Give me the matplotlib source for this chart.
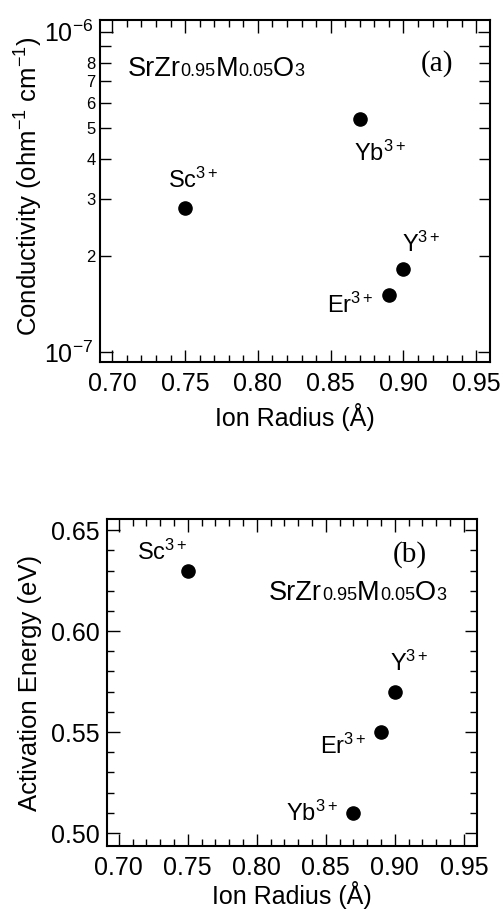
import numpy as np
import matplotlib
matplotlib.use('Agg')
import matplotlib.pyplot as plt
from matplotlib.ticker import MultipleLocator, LogLocator, FuncFormatter
from matplotlib.offsetbox import TextArea, HPacker, AnchoredOffsetbox

plt.rcParams['font.family'] = ['Liberation Sans', 'DejaVu Sans']
plt.rcParams['mathtext.fontset'] = 'custom'
plt.rcParams['mathtext.rm'] = 'Liberation Sans'
plt.rcParams['mathtext.it'] = 'Liberation Sans'

# data
ions = ['Sc', 'Yb', 'Y', 'Er']
radius = [0.75, 0.87, 0.90, 0.89]
conductivity = [2.82e-7, 5.32e-7, 1.81e-7, 1.51e-7]
activation = [0.63, 0.51, 0.57, 0.55]

# label offsets in pixels (left, baseline)
offs_a = [(-17, 20), (-6, -41), (-1, 18), (-62, -18)]
offs_b = [(-51, 11), (-67, -8), (-5, 21), (-61, -22)]

fig = plt.figure(figsize=(5.03, 9.11), dpi=100)
ax1 = fig.add_axes([100/503, 1-362/911, 390/503, 342/911])
ax2 = fig.add_axes([107/503, 1-846/911, 370/503, 327/911])


def formula(ax, x, y):
    parts = [('SrZr', 19.5), ('0.95', 13), ('M', 19.5), ('0.05', 13), ('O', 19.5), ('3', 13)]
    areas = [TextArea(t, textprops=dict(fontsize=s)) for t, s in parts]
    box = HPacker(children=areas, align='baseline', pad=0, sep=0)
    ab = AnchoredOffsetbox(loc='lower left', child=box, frameon=False, pad=0, borderpad=0,
                           bbox_to_anchor=(x, y), bbox_transform=ax.transAxes)
    ax.add_artist(ab)


def style(ax, lpad):
    for s in ax.spines.values():
        s.set_linewidth(1.5)
    ax.tick_params(which='both', direction='in', top=True, right=True, width=1.0, labelsize=18)
    ax.tick_params(which='major', length=9)
    ax.tick_params(which='minor', length=5)
    ax.tick_params(axis='x', which='both', pad=7)
    ax.set_xlim(0.6915, 0.9595)
    ax.xaxis.set_major_locator(MultipleLocator(0.05))
    ax.xaxis.set_minor_locator(MultipleLocator(0.01))
    ax.xaxis.set_major_formatter(FuncFormatter(lambda v, p: '%.2f' % v))
    ax.set_xlabel('Ion Radius (Å)', fontsize=18, labelpad=lpad)


def sub_label(v):
    m = round(v / 10**np.floor(np.log10(v) + 1e-9))
    return '%d' % m if m < 9 else ''


# (a) conductivity
ax1.scatter(radius, conductivity, s=90, color='black', zorder=3)
ax1.set_yscale('log')
ax1.set_ylim(0.93e-7, 1.088e-6)
style(ax1, 5)
ax1.yaxis.set_major_locator(LogLocator(base=10))
ax1.yaxis.set_minor_locator(LogLocator(base=10, subs=np.arange(2, 10)))
ax1.yaxis.set_major_formatter(FuncFormatter(lambda v, p: r'$\mathregular{10^{%d}}$' % round(np.log10(v))))
ax1.yaxis.set_minor_formatter(FuncFormatter(lambda v, p: sub_label(v)))
ax1.tick_params(axis='y', which='minor', length=8, labelsize=12, pad=3)
ax1.tick_params(axis='y', which='major', length=9, labelsize=18, pad=5)
ax1.set_ylabel(r'Conductivity (ohm$^{\mathregular{-1}}$ cm$^{\mathregular{-1}}$)', fontsize=18.5)
ax1.yaxis.set_label_coords(-0.141, 0.515)
for name, x, y, o in zip(ions, radius, conductivity, offs_a):
    ax1.annotate(name + r'$^{\mathregular{3+}}$', (x, y), xytext=o, textcoords='offset pixels',
                 fontsize=17, ha='left', va='baseline')
formula(ax1, 0.07, 0.82)
ax1.text(0.905, 0.874, '(a)', transform=ax1.transAxes, fontsize=21, family='Liberation Serif',
         ha='right', va='center')

# (b) activation energy
ax2.scatter(radius, activation, s=90, color='black', zorder=3)
ax2.set_ylim(0.4936, 0.6555)
style(ax2, 1)
ax2.yaxis.set_major_locator(MultipleLocator(0.05))
ax2.yaxis.set_minor_locator(MultipleLocator(0.01))
ax2.yaxis.set_major_formatter(FuncFormatter(lambda v, p: '%.2f' % v))
ax2.tick_params(axis='y', which='both', pad=5)
ax2.set_ylabel('Activation Energy (eV)', fontsize=18.5)
ax2.yaxis.set_label_coords(-0.176, 0.5)
for name, x, y, o in zip(ions, radius, activation, offs_b):
    ax2.annotate(name + r'$^{\mathregular{3+}}$', (x, y), xytext=o, textcoords='offset pixels',
                 fontsize=17, ha='left', va='baseline')
formula(ax2, 0.438, 0.735)
ax2.text(0.865, 0.89, '(b)', transform=ax2.transAxes, fontsize=21, family='Liberation Serif',
         ha='right', va='center')

fig.savefig('out.png', dpi=100)
